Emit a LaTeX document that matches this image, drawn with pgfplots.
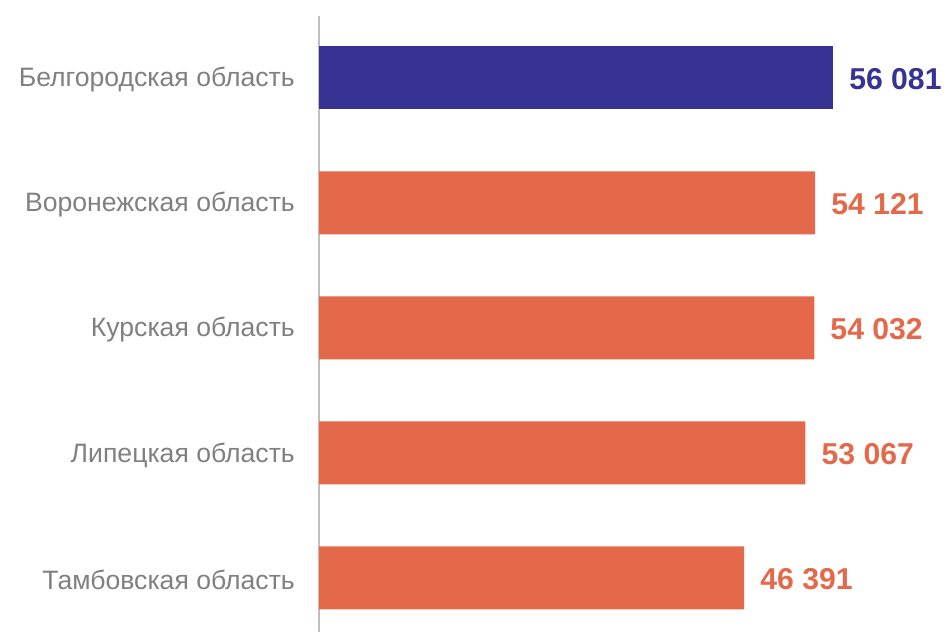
\documentclass[border=0pt]{standalone}
\usepackage{pgfplots}
\pgfplotsset{compat=1.18}
\usepackage{fontspec}
\setmainfont{Liberation Sans}
\definecolor{barblue}{RGB}{54,51,148}
\definecolor{barorange}{RGB}{228,105,74}
\definecolor{labelgray}{RGB}{128,128,128}
\definecolor{axisgray}{RGB}{191,191,191}

\begin{document}
\begin{tikzpicture}
\begin{axis}[
  at={(319bp,0bp)}, anchor=south west,
  scale only axis, width=550bp, height=616bp,
  xmin=0, xmax=60000, ymin=-0.432, ymax=4.496,
  xbar, bar width=63bp,
  axis x line=none,
  axis y line*=left,
  y axis line style={draw=axisgray, line width=2.2bp, -},
  ytick={0,...,4},
  yticklabels={Тамбовская область, Липецкая область, Курская область, Воронежская область, Белгородская область},
  major tick length=0pt,
  yticklabel style={font=\fontsize{26.7}{32}\selectfont, text=labelgray, inner sep=0pt, xshift=-24bp, yshift=-2bp},
  nodes near coords, point meta=explicit symbolic,
  nodes near coords style={font=\fontsize{30.3}{36}\selectfont\bfseries, anchor=west, inner sep=0pt, xshift=16bp, yshift=-1bp},
  clip=false,
]
% Белгородская
\addplot[fill=barblue, draw=none, bar shift=0pt, nodes near coords style={text=barblue}]
  coordinates {(56081,4) [56 081]};
% other regions
\addplot[fill=barorange, draw=none, bar shift=0pt, nodes near coords style={text=barorange}]
  coordinates {(54121,3) [54 121] (54032,2) [54 032] (53067,1) [53 067] (46391,0) [46 391]};
\end{axis}
\pgfresetboundingbox
\path (0,0) rectangle (949bp,632bp);
\end{tikzpicture}
\end{document}
